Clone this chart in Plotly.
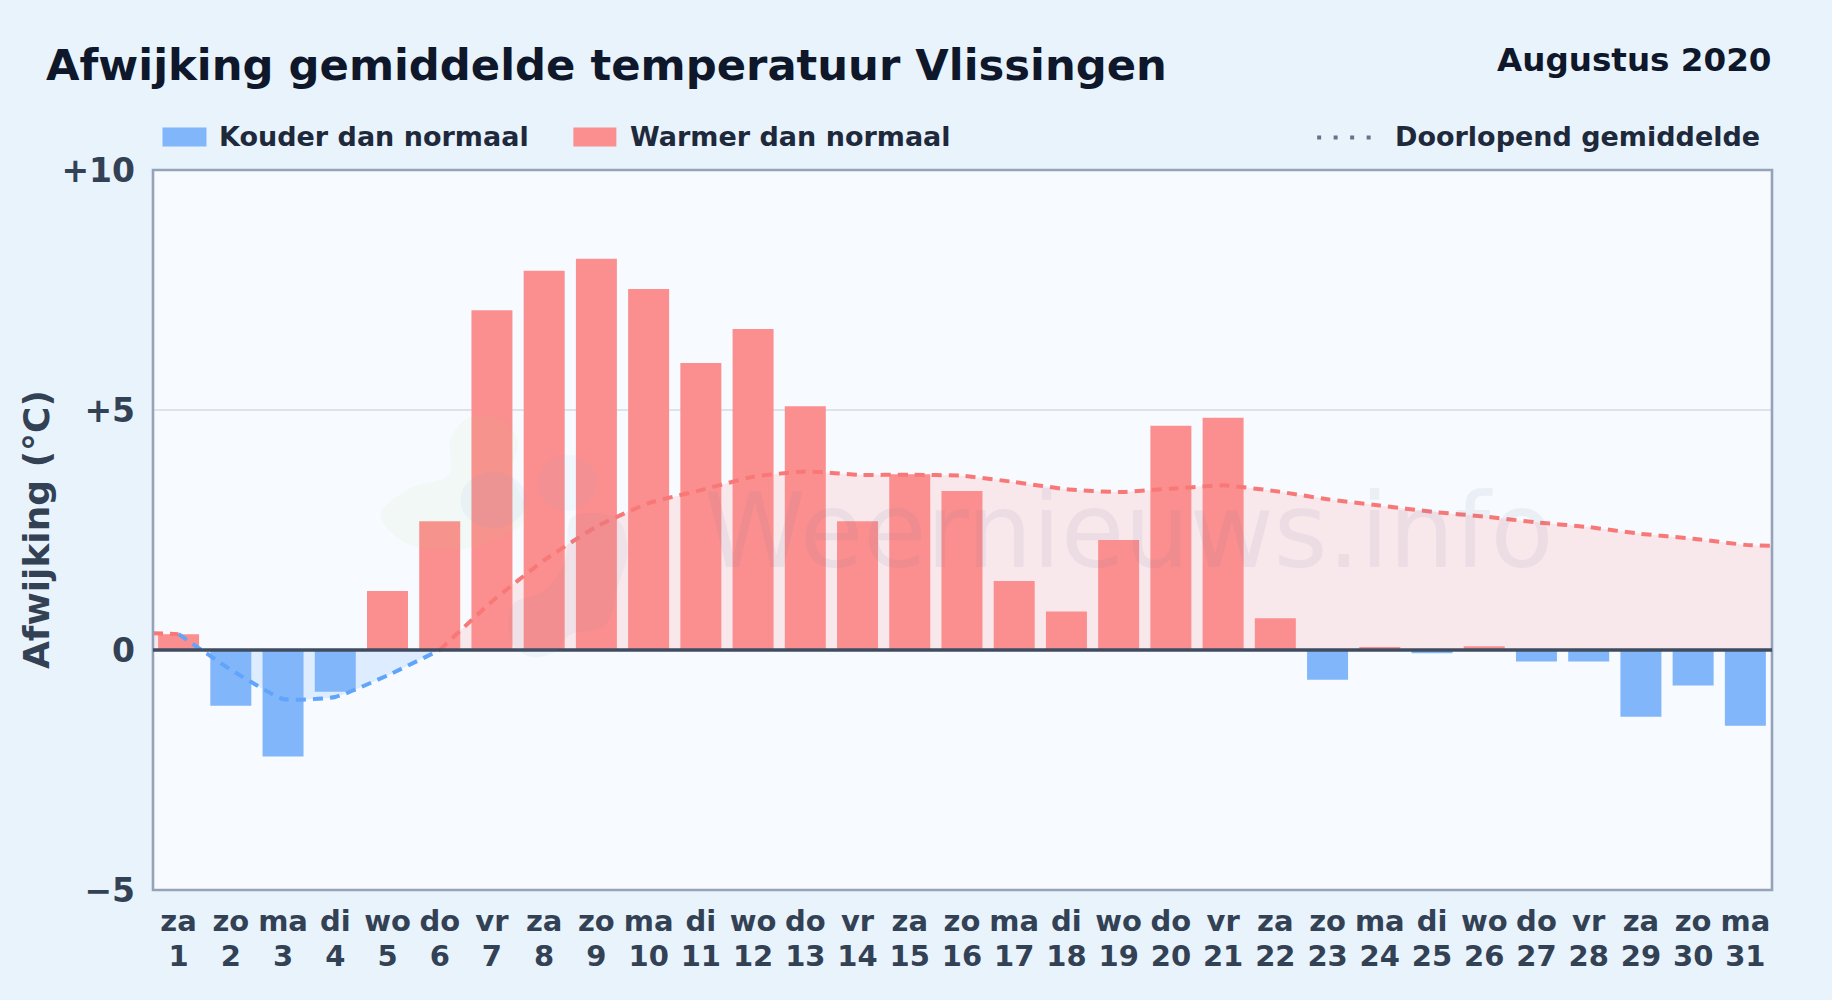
import plotly.graph_objects as go

WIDTH, HEIGHT = 1832, 1000
M_L, M_R, M_T, M_B = 152.5, 60, 169.5, 109.5

weekdays = ["za","zo","ma","di","wo","do","vr","za","zo","ma","di","wo","do","vr","za","zo",
            "ma","di","wo","do","vr","za","zo","ma","di","wo","do","vr","za","zo","ma"]
days = list(range(1, 32))
deviation = [0.33,-1.16,-2.22,-0.87,1.23,2.68,7.08,7.90,8.15,7.52,5.98,6.69,5.08,2.68,3.66,3.31,
             1.44,0.80,2.29,4.67,4.84,0.66,-0.62,0.06,-0.07,0.08,-0.24,-0.24,-1.39,-0.74,-1.58]
running_mean = [0.33,-0.41,-1.02,-0.98,-0.53,0.00,1.01,1.87,2.57,3.06,3.33,3.61,3.72,3.65,3.65,3.63,
                3.50,3.35,3.29,3.36,3.43,3.31,3.14,3.01,2.88,2.78,2.66,2.56,2.42,2.32,2.19]
mean_left_edge = 0.35
mean_right_edge = 2.17
y_ticks = [10, 5, 0, -5]
y_labels = ["+10", "+5", "0", "\u22125"]

RED, BLUE = "#fb8f8f", "#82b6fb"
LINE_RED, LINE_BLUE = "#f87878", "#60a5fa"
FILL_RED, FILL_BLUE = "rgba(255,100,100,0.13)", "rgba(96,165,250,0.17)"
FONT = "DejaVu Sans"
SMOOTH = 0.45
X_RANGE = [0.51, 31.51]

# pixel position on the page -> paper fraction of the plot area
def px(v): return (v - M_L) / (WIDTH - M_L - M_R)
def py(v): return (HEIGHT - M_B - v) / (HEIGHT - M_T - M_B)

fig = go.Figure()

warm_a_x, warm_a_y = [X_RANGE[0]] + days[:1], [mean_left_edge] + running_mean[:1]
cold_x, cold_y = days[:6], running_mean[:6]
warm_b_x, warm_b_y = days[5:] + [X_RANGE[1]], running_mean[5:] + [mean_right_edge]

for x, y, c in [(warm_a_x, warm_a_y, FILL_RED), (cold_x, cold_y, FILL_BLUE), (warm_b_x, warm_b_y, FILL_RED)]:
    fig.add_trace(go.Scatter(x=x, y=y, mode="lines", fill="tozeroy", fillcolor=c,
                             line=dict(width=0, shape="spline", smoothing=SMOOTH),
                             showlegend=False, hoverinfo="skip"))

fig.add_trace(go.Bar(x=[d for d, v in zip(days, deviation) if v < 0],
                     y=[v for v in deviation if v < 0], name="Kouder dan normaal",
                     width=0.785, marker=dict(color=BLUE, line=dict(width=0)),
                     xaxis="x2", yaxis="y2", showlegend=False))
fig.add_trace(go.Bar(x=[d for d, v in zip(days, deviation) if v >= 0],
                     y=[v for v in deviation if v >= 0], name="Warmer dan normaal",
                     width=0.785, marker=dict(color=RED, line=dict(width=0)),
                     xaxis="x2", yaxis="y2", showlegend=False))

for x, y, c in [(warm_a_x, warm_a_y, LINE_RED), (cold_x, cold_y, LINE_BLUE), (warm_b_x, warm_b_y, LINE_RED)]:
    fig.add_trace(go.Scatter(x=x, y=y, mode="lines", name="Doorlopend gemiddelde",
                             line=dict(width=4, color=c, dash="10px,7px", shape="spline", smoothing=SMOOTH),
                             xaxis="x2", yaxis="y2", showlegend=False))

shapes = [
    dict(type="rect", xref="paper", yref="paper", x0=0, x1=1, y0=0, y1=1, layer="above",
         fillcolor="rgba(0,0,0,0)", line=dict(color="#94a3b8", width=2.6)),
    dict(type="line", xref="paper", x0=0, x1=1, yref="y", y0=0, y1=0,
         line=dict(color="#3f4c60", width=3.4), layer="above"),
    dict(type="rect", xref="paper", yref="paper", x0=px(162), x1=px(206), y0=py(146), y1=py(127),
         fillcolor=BLUE, line=dict(width=0)),
    dict(type="rect", xref="paper", yref="paper", x0=px(573), x1=px(616), y0=py(146), y1=py(127),
         fillcolor=RED, line=dict(width=0)),
    dict(type="line", xref="paper", yref="paper", x0=px(1317), x1=px(1375), y0=py(137), y1=py(137),
         line=dict(color="#64748b", width=4, dash="4px,12.5px")),
]

# faint watermark logo (decoration, placed in page pixels)
def blob(points, color):
    n = len(points)
    d = "M%.5f,%.5f" % (px(points[0][0]), py(points[0][1]))
    for i in range(n):
        p0, p1, p2, p3 = points[i - 1], points[i], points[(i + 1) % n], points[(i + 2) % n]
        c1 = (p1[0] + (p2[0] - p0[0]) / 6, p1[1] + (p2[1] - p0[1]) / 6)
        c2 = (p2[0] - (p3[0] - p1[0]) / 6, p2[1] - (p3[1] - p1[1]) / 6)
        d += " C%.5f,%.5f %.5f,%.5f %.5f,%.5f" % (px(c1[0]), py(c1[1]), px(c2[0]), py(c2[1]), px(p2[0]), py(p2[1]))
    shapes.append(dict(type="path", path=d + " Z", xref="paper", yref="paper", layer="above",
                       fillcolor=color, line=dict(width=0)))

def circle(cx, cy, rx, ry, color):
    shapes.append(dict(type="circle", xref="paper", yref="paper", layer="above",
                       x0=px(cx - rx), x1=px(cx + rx), y0=py(cy + ry), y1=py(cy - ry),
                       fillcolor=color, line=dict(width=0)))

blob([(380, 515), (410, 488), (448, 475), (450, 440), (467, 418), (497, 417), (517, 440),
      (512, 475), (525, 520), (470, 548), (410, 545)], "rgba(190,215,130,0.07)")
circle(493, 500, 33, 28, "rgba(120,160,225,0.08)")
circle(567, 483, 30, 28, "rgba(120,170,235,0.06)")
blob([(572, 517), (615, 518), (627, 550), (618, 585), (605, 625), (570, 635), (555, 652),
      (530, 657), (510, 640), (512, 605), (545, 590), (565, 560)], "rgba(110,130,175,0.06)")

text_ann = [
    dict(text="Afwijking gemiddelde temperatuur Vlissingen", x=px(43.5), y=py(64), xanchor="left", yanchor="middle",
         font=dict(size=43.3, color="#0f172a")),
    dict(text="Augustus 2020", x=px(1773), y=py(59), xanchor="right", yanchor="middle",
         font=dict(size=32.6, color="#0f172a")),
    dict(text="Kouder dan normaal", x=px(217), y=py(136), xanchor="left", yanchor="middle",
         font=dict(size=27, color="#1e293b")),
    dict(text="Warmer dan normaal", x=px(628), y=py(136), xanchor="left", yanchor="middle",
         font=dict(size=27, color="#1e293b")),
    dict(text="Doorlopend gemiddelde", x=px(1762), y=py(136), xanchor="right", yanchor="middle",
         font=dict(size=27, color="#1e293b")),
]
annotations = [dict(a, xref="paper", yref="paper", showarrow=False,
                    font=dict(a["font"], family=FONT, weight="bold")) for a in text_ann]
annotations.append(dict(text="Afwijking (\u00b0C)", xref="paper", yref="paper", x=px(35.5), y=py(530),
                        xanchor="center", yanchor="middle", textangle=-90, showarrow=False,
                        font=dict(size=36, color="#334155", family=FONT, weight="bold")))
annotations.append(dict(text="Weernieuws.info", xref="paper", yref="paper", x=px(1128), y=py(531),
                        xanchor="center", yanchor="middle", showarrow=False,
                        font=dict(family=FONT, size=103, color="rgba(100,116,155,0.085)")))

tick_font = dict(size=29, color="#334155", family=FONT, weight="bold")
fig.update_layout(
    width=WIDTH, height=HEIGHT, autosize=False,
    margin=dict(l=M_L, r=M_R, t=M_T, b=M_B, pad=0),
    paper_bgcolor="#e8f3fc", plot_bgcolor="#f7fbff",
    barmode="overlay", showlegend=False, shapes=shapes, annotations=annotations,
    font=dict(family=FONT),
    xaxis=dict(range=X_RANGE, tickmode="array", tickvals=days, ticktext=weekdays,
               tickangle=0, ticks="", showgrid=False, zeroline=False, automargin=False,
               ticklabelstandoff=11, tickfont=tick_font),
    yaxis=dict(range=[-5, 10], tickmode="array", tickvals=y_ticks, ticktext=y_labels,
               ticks="", showgrid=True, gridcolor="#dde3ea", gridwidth=1.5, zeroline=False,
               automargin=False, ticklabelstandoff=17, tickfont=dict(tick_font, size=33)),
    # overlay axes: they carry the bars and the line above the fills, and the day numbers
    xaxis2=dict(overlaying="x", matches="x", side="bottom", anchor="y2", tickmode="array",
                tickvals=days, ticktext=[str(d) for d in days], tickangle=0, ticks="",
                showgrid=False, zeroline=False, showline=False, automargin=False,
                ticklabelstandoff=46, tickfont=tick_font),
    yaxis2=dict(overlaying="y", matches="y", visible=False),
)

fig.write_html("out.html", config={"displayModeBar": False},
               post_script="document.body.style.margin='0';document.body.style.overflow='hidden';")
